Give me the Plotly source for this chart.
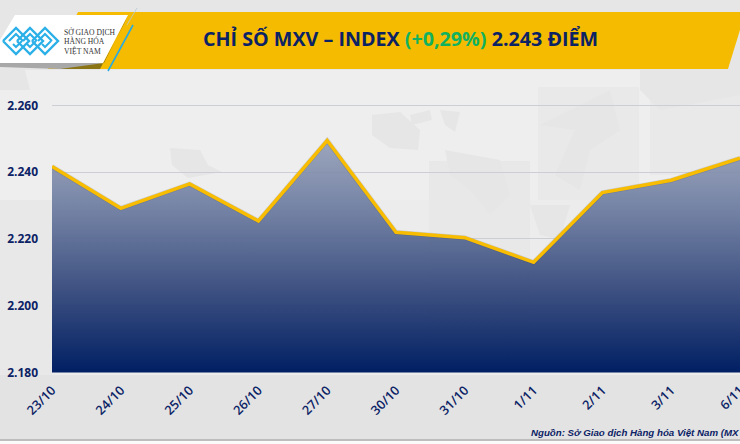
import plotly.graph_objects as go

categories = ["23/10", "24/10", "25/10", "26/10", "27/10", "30/10", "31/10", "1/11", "2/11", "3/11", "6/11"]
index_values = [2241.7, 2229.2, 2236.5, 2225.4, 2249.5, 2222, 2220.4, 2213, 2233.9, 2237.6, 2244.2]
y_ticks = [2180, 2200, 2220, 2240, 2260]
y_tick_labels = ["2.180", "2.200", "2.220", "2.240", "2.260"]

W, H = 740, 444
NAVY = "#0b2265"
YEL = "#f5bb00"

def px(x): return x / W
def py(y): return 1 - y / H

def poly(points, fill, line=None, opacity=1.0, width=1):
    d = "M " + " L ".join(f"{px(x):.5f},{py(y):.5f}" for x, y in points) + " Z"
    return dict(type="path", xref="paper", yref="paper", path=d, fillcolor=fill, opacity=opacity,
                line=dict(color=line or "rgba(0,0,0,0)", width=width), layer="below")

def rect(x0, y0, x1, y1, fill):
    return poly([(x0, y0), (x1, y0), (x1, y1), (x0, y1)], fill)

def polyline(points, color, width):
    d = "M " + " L ".join(f"{px(x):.5f},{py(y):.5f}" for x, y in points)
    return dict(type="path", xref="paper", yref="paper", path=d, fillcolor="rgba(0,0,0,0)",
                line=dict(color=color, width=width), layer="below")

shapes = []
# background bands
shapes.append(rect(0, 0, 740, 70, "#e6e6e6"))
shapes.append(rect(0, 70, 740, 200, "#eeeeee"))
shapes.append(rect(0, 200, 740, 375, "#ececec"))
shapes.append(rect(0, 200, 52, 375, "#e8e8e8"))
shapes.append(rect(0, 375, 740, 439, "#e3e3e3"))
# faint world map and panels
shapes.append(rect(538, 87, 639, 200, "#e9e9e9"))
shapes.append(rect(429, 161, 530, 340, "#e8e8e8"))
shapes.append(rect(650, 70, 740, 175, "#e9e9e9"))
for pts in [
    [(170, 148), (200, 150), (208, 165), (222, 172), (205, 175), (188, 178), (172, 165)],
    [(372, 115), (400, 112), (420, 130), (418, 150), (390, 148), (372, 135)],
    [(410, 115), (430, 110), (432, 120), (412, 125)],
    [(440, 110), (460, 112), (455, 132), (445, 125)],
    [(445, 150), (500, 160), (510, 195), (490, 215), (470, 190), (450, 175)],
    [(540, 125), (610, 90), (620, 130), (590, 150), (580, 190), (555, 175), (575, 130)],
    [(530, 205), (570, 205), (560, 240), (540, 235)],
    [(640, 70), (740, 70), (740, 95), (660, 110), (640, 90)],
    [(0, 70), (0, 90), (30, 90), (25, 70)],
]:
    shapes.append(poly(pts, "#e6e6e6"))
# bottom strip
shapes.append(rect(0, 439, 740, 441, "#bdbdbd"))
shapes.append(rect(0, 441, 740, 444, "#fafafa"))
# banner
shapes.append(poly([(78, 12), (740, 12), (740, 30), (728, 69), (48, 69)], YEL))
# logo card with shadow
shapes.append(poly([(60, 69), (100, 69), (124, 24), (128, 15), (104, 63), (55, 64)], "#8a7414"))
shapes.append(poly([(0, 63), (104, 63), (60, 69), (0, 67)], "#a8a8a8"))
shapes.append(poly([(15, 15), (128, 15), (103, 63), (0, 63), (0, 40)], "#ffffff"))
shapes.append(polyline([(133, 25), (108, 71)], "#29abe2", 1.6))
shapes.append(polyline([(137, 8), (127, 25)], "#b5cad8", 0.8))
# logo glyph: nested interlocked diamonds
LOGO = "#2cb0e8"
for cx in (16, 30, 45):
    cy, r = 41, 13
    shapes.append(polyline([(cx - r, cy), (cx, cy - r), (cx + r, cy), (cx, cy + r), (cx - r, cy)], LOGO, 2.4))
    shapes.append(polyline([(cx - 7, cy), (cx, cy - 7), (cx + 7, cy)], LOGO, 2.2))
    shapes.append(polyline([(cx - 3, cy + 3), (cx, cy + 6), (cx + 6, cy)], LOGO, 2.0))

fig = go.Figure()
# soft shadow beneath the line
fig.add_trace(go.Scatter(
    x=categories, y=index_values, mode="lines",
    line=dict(color="rgba(0,20,70,0.14)", width=4.6),
    fill="tozeroy",
    fillgradient=dict(type="vertical", start=2250, stop=2180,
                      colorscale=[[0, "rgba(146,156,182,0.88)"], [0.286, "rgba(108,124,160,0.92)"],
                                  [0.643, "rgba(53,73,124,0.95)"], [1, "#001f63"]]),
    hoverinfo="skip", showlegend=False,
))
fig.add_trace(go.Scatter(
    x=categories, y=index_values, mode="lines",
    line=dict(color="#f8bd00", width=3.5),
    hoverinfo="skip", showlegend=False,
))

def label(x, y, text, size, color=NAVY, family="Open Sans", bold=False, italic=False, anchor="left"):
    return dict(xref="paper", yref="paper", x=px(x), y=py(y), text=text, showarrow=False, xanchor=anchor, yanchor="middle",
                borderpad=0,
                font=dict(size=size, color=color, family=family, weight=700 if bold else 400, style="italic" if italic else "normal"))

annotations = [
    label(201.5, 38, 'CHỈ SỐ MXV – INDEX <span style="color:#12b15f">(+0,29%)</span> 2.243 ĐIỂM', 19.7, bold=True),
    label(63, 32.5, "SỞ GIAO DỊCH", 7.6, color="#333333", family="Liberation Serif"),
    label(63, 41.5, "HÀNG HÓA", 7.6, color="#333333", family="Liberation Serif"),
    label(63, 50.5, "VIỆT NAM", 7.6, color="#333333", family="Liberation Serif"),
    label(740, 432, "Nguồn: Sở Giao dịch Hàng hóa Việt Nam (MX", 9.7, family="Liberation Sans", bold=True, italic=True, anchor="right"),
]

fig.update_layout(
    width=W, height=H, margin=dict(l=0, r=0, t=0, b=0, autoexpand=False),
    paper_bgcolor="#e9e9e9", plot_bgcolor="rgba(0,0,0,0)",
    shapes=shapes, annotations=annotations, showlegend=False,
    xaxis=dict(domain=[52 / W, 1], range=[0, 10], tickangle=-45, automargin=False,
               tickfont=dict(size=12.8, color=NAVY, family="Open Sans", weight=600),
               showgrid=False, zeroline=False, showline=False, ticks="", type="category", ticklabelstandoff=7),
    yaxis=dict(domain=[py(372.5), py(98.8)], range=[2180, 2262], tickvals=y_ticks, ticktext=y_tick_labels, automargin=False,
               tickfont=dict(size=12, color=NAVY, family="Open Sans", weight=700),
               showgrid=True, gridcolor="#cdcdd6", gridwidth=1, zeroline=False, showline=False, ticks="",
               ticklabelstandoff=13),
)
fig.write_html("out.html", config=dict(displayModeBar=False),
               post_script="document.body.style.margin='0';document.body.style.overflow='hidden';")
